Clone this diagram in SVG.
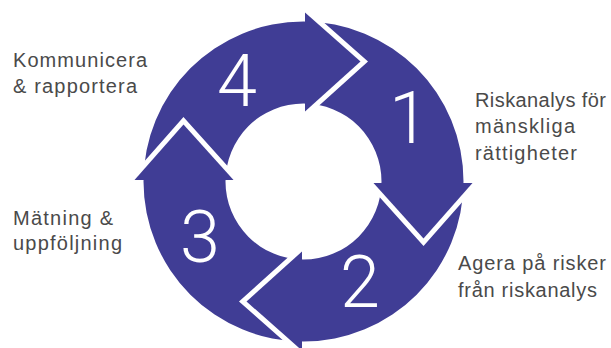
<svg xmlns="http://www.w3.org/2000/svg" xmlns:xlink="http://www.w3.org/1999/xlink" width="611" height="348" viewBox="0 0 611 348">
<style>
.ring{fill:#403d95;fill-rule:evenodd}
.head{fill:#403d95}
.gap{fill:none;stroke:#fff;stroke-width:10;stroke-linejoin:miter}
.num{font-family:Roboto,"Liberation Sans",sans-serif;font-weight:300;font-size:72px;fill:#fff;text-anchor:middle}
.lbl{font-family:"Liberation Sans",Arial,sans-serif;font-size:20px;fill:#4a4a4a}
</style>
<defs>
<g id="headShape">
<polyline class="gap" points="305,12.5 360.5,61.5 305,111.5"/>
<polygon class="head" points="305,12.5 360.5,61.5 305,111.5"/>
</g>
</defs>
<g id="ring">
<path class="ring" d="M143.5,181.5 A160,160 0 1,0 463.5,181.5 A160,160 0 1,0 143.5,181.5 Z M225.5,181.5 A78,78 0 1,0 381.5,181.5 A78,78 0 1,0 225.5,181.5 Z"/>
</g>
<g id="step1">
<use xlink:href="#headShape" transform="rotate(90 303.5 181.5)"/>
<text class="num" x="409" y="143">1</text>
<text class="lbl" x="475" y="107" textLength="131" lengthAdjust="spacing">Riskanalys för</text>
<text class="lbl" x="475" y="133" textLength="100" lengthAdjust="spacing">mänskliga</text>
<text class="lbl" x="475" y="160" textLength="102" lengthAdjust="spacing">rättigheter</text>
</g>
<g id="step2">
<use xlink:href="#headShape" transform="rotate(180 303.5 181.5)"/>
<text class="num" x="360" y="307">2</text>
<text class="lbl" x="458" y="270" textLength="148" lengthAdjust="spacing">Agera på risker</text>
<text class="lbl" x="458" y="297" textLength="139" lengthAdjust="spacing">från riskanalys</text>
</g>
<g id="step3">
<use xlink:href="#headShape" transform="rotate(270 303.5 181.5)"/>
<text class="num" x="200" y="262">3</text>
<text class="lbl" x="13" y="225" textLength="100" lengthAdjust="spacing">Mätning &amp;</text>
<text class="lbl" x="13" y="250" textLength="109" lengthAdjust="spacing">uppföljning</text>
</g>
<g id="step4">
<use xlink:href="#headShape"/>
<text class="num" x="237" y="106">4</text>
<text class="lbl" x="13" y="67" textLength="134" lengthAdjust="spacing">Kommunicera</text>
<text class="lbl" x="13" y="93" textLength="124" lengthAdjust="spacing">&amp; rapportera</text>
</g>
</svg>
